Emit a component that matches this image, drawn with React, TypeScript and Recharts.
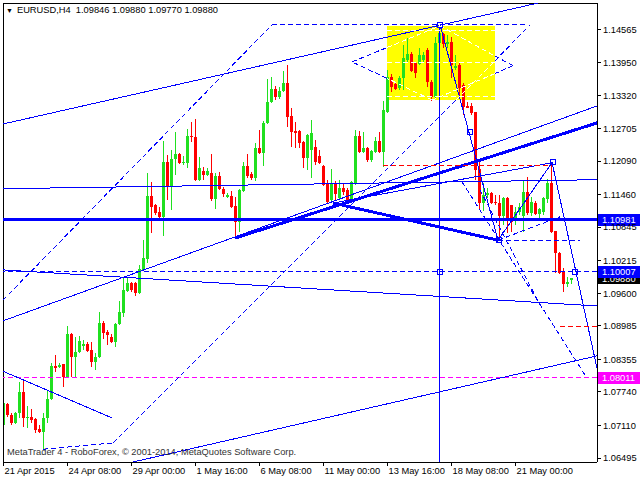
import React from 'react';
import { ComposedChart, Bar, XAxis, YAxis, ReferenceLine, ReferenceArea, ReferenceDot } from 'recharts';

// ---------- data (EURUSD H4) ----------
const opens = [
  1.0711, 1.0751, 1.0730, 1.0715, 1.0734, 1.0774, 1.0724, 1.0727, 1.0723, 1.0704,
  1.0698, 1.0725, 1.0760, 1.0823, 1.0821, 1.0827, 1.0802, 1.0883, 1.0840, 1.0849,
  1.0861, 1.0865, 1.0853, 1.0830, 1.0840, 1.0904, 1.0887, 1.0877, 1.0868, 1.0902,
  1.0923, 1.0964, 1.0979, 1.0979, 1.0960, 1.1004, 1.1025, 1.1143, 1.1126, 1.1113,
  1.1104, 1.1207, 1.1160, 1.1213, 1.1223, 1.1206, 1.1206, 1.1256, 1.1254, 1.1174,
  1.1190, 1.1183, 1.1187, 1.1138, 1.1181, 1.1157, 1.1141, 1.1143, 1.1125, 1.1094,
  1.1153, 1.1200, 1.1185, 1.1177, 1.1234, 1.1224, 1.1281, 1.1321, 1.1345, 1.1330,
  1.1341, 1.1356, 1.1294, 1.1266, 1.1266, 1.1245, 1.1215, 1.1230, 1.1236, 1.1219,
  1.1200, 1.1168, 1.1136, 1.1168, 1.1140, 1.1158, 1.1155, 1.1136, 1.1168, 1.1256,
  1.1226, 1.1234, 1.1211, 1.1226, 1.1247, 1.1226, 1.1302, 1.1368, 1.1355, 1.1347,
  1.1366, 1.1400, 1.1411, 1.1394, 1.1392, 1.1400, 1.1419, 1.1358, 1.1330, 1.1432,
  1.1449, 1.1430, 1.1434, 1.1385, 1.1390, 1.1353, 1.1313, 1.1313, 1.1302, 1.1194,
  1.1130, 1.1145, 1.1149, 1.1132, 1.1130, 1.1106, 1.1140, 1.1126, 1.1098, 1.1113,
  1.1106, 1.1151, 1.1111, 1.1130, 1.1109, 1.1113, 1.1138, 1.1168, 1.1077, 1.1036,
  1.1002, 1.0977, 1.09846,
];
const highs = [
  1.0781, 1.0753, 1.0734, 1.0736, 1.0793, 1.0798, 1.0747, 1.0742, 1.0725, 1.0711,
  1.0734, 1.0777, 1.0828, 1.0843, 1.0828, 1.0827, 1.0898, 1.0885, 1.0877, 1.0879,
  1.0872, 1.0868, 1.0868, 1.0847, 1.0925, 1.0908, 1.0891, 1.0883, 1.0904, 1.0945,
  1.0991, 1.0989, 1.0981, 1.0981, 1.1013, 1.1060, 1.1187, 1.1170, 1.1128, 1.1123,
  1.1247, 1.1221, 1.1230, 1.1264, 1.1224, 1.1219, 1.1270, 1.1283, 1.1289, 1.1217,
  1.1198, 1.1196, 1.1223, 1.1187, 1.1189, 1.1160, 1.1149, 1.1153, 1.1141, 1.1157,
  1.1207, 1.1223, 1.1189, 1.1243, 1.1268, 1.1285, 1.1364, 1.1368, 1.1351, 1.1349,
  1.1379, 1.1390, 1.1309, 1.1283, 1.1268, 1.1247, 1.1260, 1.1287, 1.1249, 1.1230,
  1.1202, 1.1174, 1.1194, 1.1172, 1.1174, 1.1168, 1.1158, 1.1172, 1.1268, 1.1266,
  1.1264, 1.1236, 1.1230, 1.1255, 1.1264, 1.1323, 1.1381, 1.1373, 1.1357, 1.1370,
  1.1428, 1.1441, 1.1415, 1.1396, 1.1422, 1.1415, 1.1422, 1.1362, 1.1443, 1.1466,
  1.1451, 1.1447, 1.1443, 1.1409, 1.1396, 1.1357, 1.1321, 1.1319, 1.1302, 1.1211,
  1.1168, 1.1158, 1.1151, 1.1145, 1.1145, 1.1141, 1.1141, 1.1126, 1.1123, 1.1130,
  1.1174, 1.1179, 1.1141, 1.1134, 1.1121, 1.1141, 1.1175, 1.1207, 1.1077, 1.1038,
  1.1008, 1.0991, 1.0988,
];
const lows = [
  1.0679, 1.0727, 1.0711, 1.0713, 1.0725, 1.0708, 1.0706, 1.0715, 1.0696, 1.0696,
  1.0666, 1.0715, 1.0758, 1.0811, 1.0819, 1.0783, 1.0800, 1.0802, 1.0802, 1.0847,
  1.0853, 1.0849, 1.0821, 1.0815, 1.0838, 1.0874, 1.0862, 1.0866, 1.0859, 1.0900,
  1.0915, 1.0962, 1.0962, 1.0955, 1.0958, 1.1002, 1.1017, 1.1074, 1.1108, 1.1098,
  1.1068, 1.1136, 1.1117, 1.1183, 1.1204, 1.1202, 1.1196, 1.1245, 1.1172, 1.1172,
  1.1174, 1.1181, 1.1134, 1.1119, 1.1155, 1.1141, 1.1140, 1.1121, 1.1064, 1.1075,
  1.1151, 1.1177, 1.1174, 1.1172, 1.1223, 1.1200, 1.1279, 1.1319, 1.1324, 1.1326,
  1.1340, 1.1273, 1.1236, 1.1234, 1.1234, 1.1196, 1.1192, 1.1177, 1.1202, 1.1204,
  1.1162, 1.1130, 1.1132, 1.1136, 1.1136, 1.1145, 1.1134, 1.1134, 1.1164, 1.1224,
  1.1224, 1.1207, 1.1207, 1.1224, 1.1224, 1.1198, 1.1300, 1.1340, 1.1343, 1.1343,
  1.1343, 1.1396, 1.1377, 1.1366, 1.1390, 1.1396, 1.1349, 1.1323, 1.1326, 1.1428,
  1.1422, 1.1422, 1.1366, 1.1381, 1.1330, 1.1296, 1.1309, 1.1296, 1.1173, 1.1117,
  1.1115, 1.1140, 1.1128, 1.1126, 1.1060, 1.1089, 1.1074, 1.1075, 1.1089, 1.1108,
  1.1075, 1.1108, 1.1106, 1.1108, 1.1098, 1.1108, 1.1130, 1.1074, 1.0998, 1.0996,
  1.0962, 1.0972, 1.0977,
];
const closes = [
  1.0753, 1.0730, 1.0715, 1.0734, 1.0774, 1.0725, 1.0726, 1.0721, 1.0702, 1.0698,
  1.0725, 1.0760, 1.0823, 1.0819, 1.0825, 1.0802, 1.0883, 1.0840, 1.0849, 1.0870,
  1.0865, 1.0851, 1.0830, 1.0840, 1.0904, 1.0885, 1.0881, 1.0868, 1.0902, 1.0925,
  1.0966, 1.0979, 1.0966, 1.0960, 1.1006, 1.1026, 1.1143, 1.1123, 1.1111, 1.1104,
  1.1207, 1.1160, 1.1213, 1.1223, 1.1206, 1.1208, 1.1256, 1.1254, 1.1174, 1.1196,
  1.1183, 1.1190, 1.1138, 1.1181, 1.1157, 1.1147, 1.1145, 1.1123, 1.1094, 1.1155,
  1.1200, 1.1181, 1.1177, 1.1234, 1.1224, 1.1281, 1.1321, 1.1345, 1.1330, 1.1341,
  1.1356, 1.1292, 1.1264, 1.1262, 1.1243, 1.1215, 1.1258, 1.1262, 1.1207, 1.1206,
  1.1164, 1.1132, 1.1168, 1.1147, 1.1158, 1.1151, 1.1136, 1.1170, 1.1256, 1.1226,
  1.1234, 1.1211, 1.1228, 1.1247, 1.1226, 1.1306, 1.1368, 1.1349, 1.1345, 1.1366,
  1.1404, 1.1411, 1.1379, 1.1375, 1.1409, 1.1409, 1.1358, 1.1330, 1.1432, 1.1451,
  1.1430, 1.1434, 1.1390, 1.1389, 1.1347, 1.1311, 1.1309, 1.1300, 1.1192, 1.1130,
  1.1145, 1.1149, 1.1130, 1.1130, 1.1106, 1.1140, 1.1098, 1.1094, 1.1113, 1.1123,
  1.1151, 1.1111, 1.1132, 1.1109, 1.1119, 1.1140, 1.1168, 1.1075, 1.1036, 1.0998,
  1.0977, 1.0981, 1.0988,
];

const timeTickIndex = [0, 16, 32, 48, 64, 80, 96, 112, 128];
const timeTickLabels = ['21 Apr 2015', '24 Apr 08:00', '29 Apr 00:00', '1 May 16:00', '6 May 08:00', '11 May 00:00', '13 May 16:00', '18 May 08:00', '21 May 00:00'];
const priceTicks = [1.14565, 1.1395, 1.1332, 1.12705, 1.1209, 1.1146, 1.10845, 1.10215, 1.096, 1.08985, 1.08355, 1.0774, 1.0711, 1.06495];

// analysis objects, endpoints as [barIndex, price, barIndex, price]
const solidLines = [
  [-0.125, 1.1279, 134.875, 1.1509],
  [-0.125, 1.1157, 148.375, 1.1174],
  [-0.125, 1.1004, 148.375, 1.0936],
  [-0.125, 1.0908, 148.375, 1.1313],
  [82.375, 1.1130, 137.125, 1.1206],
  [109.125, 1.1466, 123.625, 1.1060],
  [123.625, 1.1060, 137.125, 1.1206],
  [137.125, 1.1207, 148.375, 1.0819],
  [32.375, 1.0642, 148.375, 1.0842],
  [-0.125, 1.0813, 27.125, 1.0725],
  [109, 1.1466, 109, 1.0642],
];
const thickLines = [
  [57.875, 1.1064, 148.375, 1.1281],
  [82.375, 1.1130, 123.625, 1.1060],
];
const dashedBlueLines = [
  [-0.125, 1.0947, 67.125, 1.1466],
  [67.125, 1.1466, 131.125, 1.1466],
  [9.875, 1.0666, 27.375, 1.0678],
  [27.375, 1.0678, 113.125, 1.1324],
  [122.875, 1.1398, 131.625, 1.1466],
  [123.625, 1.1060, 144.125, 1.1060],
  [114.625, 1.1170, 145.875, 1.0800],
  [119.125, 1.1155, 134.125, 1.0938],
  [123.625, 1.1060, 139.125, 1.1104],
  [87.125, 1.1396, 95.875, 1.1423],
  [122.875, 1.1407, 127.375, 1.1389],
  [127.375, 1.1389, 122.875, 1.1374],
  [95.875, 1.1365, 87.125, 1.1396],
];
const dashedWhiteLines = [
  [113.125, 1.1324, 122.875, 1.1398],
  [95.875, 1.1423, 109.125, 1.1464],
  [109.125, 1.1464, 122.875, 1.1407],
  [122.875, 1.1374, 107.125, 1.1324],
  [107.125, 1.1324, 95.875, 1.1365],
  [95.875, 1.1456, 122.875, 1.1456],
  [95.875, 1.1394, 122.875, 1.1394],
  [95.875, 1.1330, 122.875, 1.1330],
];
const dashedRedLines = [
  [94.875, 1.1200, 137.125, 1.1200],
  [139.125, 1.0898, 148.375, 1.0898],
];
const yellowBox = [95.875, 1.1324, 122.875, 1.1464];
const squarePoints = [
  [109, 1.1465], [116.5, 1.1264], [123.8, 1.1060], [137.45, 1.1207], [109.125, 1.10007], [142.9, 1.10007],
];
const supportLevel = 1.10981;
const dashedLevel = 1.10007;
const magentaLevel = 1.08011;
const priceTags = [
  { value: 1.0988, text: '1.09880', bg: '#000000' },
  { value: 1.10007, text: '1.10007', bg: '#0000FF' },
  { value: 1.10981, text: '1.10981', bg: '#0000FF' },
  { value: 1.08011, text: '1.08011', bg: '#FF00FF' },
];

const X_DOMAIN: [number, number] = [-0.125, 148.375];
const Y_DOMAIN: [number, number] = [1.0642, 1.1507];

const candles = opens.map((o, i) => ({ i, o, h: highs[i], l: lows[i], c: closes[i], range: [lows[i], highs[i]] }));

const BULL = '#20E020';
const BEAR = '#FF0000';
const BLUE = '#0000FF';
const FONT = '"Liberation Sans", Arial, sans-serif';
const FS = 9.3;
const DASH = '5 3';

const Candle = (props: any) => {
  const { x, y, width, height, payload } = props;
  if (x == null || !payload) return null;
  const top = Math.min(y, y + height);
  const span = Math.abs(height);
  const { o, h, l, c } = payload;
  const pix = (v: number) => (h === l ? top : top + ((h - v) / (h - l)) * span);
  const cx = Math.round(x + width / 2 - 0.5) + 0.5;
  const col = c >= o ? BULL : BEAR;
  const yo = pix(o);
  const yc = pix(c);
  const bt = Math.min(yo, yc);
  const bh = Math.max(1, Math.abs(yo - yc));
  return (
    <g>
      <line x1={cx} x2={cx} y1={top} y2={top + Math.max(span, 1)} stroke={col} strokeWidth={1} />
      <rect x={cx - 1.5} y={bt} width={3} height={bh} fill={col} />
    </g>
  );
};

const XTick = (props: any) => {
  const { x, y, payload } = props;
  const idx = timeTickIndex.indexOf(payload.value);
  return (
    <g>
      <line x1={x} x2={x} y1={y} y2={y + 4} stroke="#000" />
      <text x={x + 1} y={y + 12} fontFamily={FONT} fontSize={FS} fill="#000" textAnchor="start">
        {idx >= 0 ? timeTickLabels[idx] : ''}
      </text>
    </g>
  );
};

const YTick = (props: any) => {
  const { x, y, payload } = props;
  return (
    <g>
      <line x1={x} x2={x + 4} y1={y} y2={y} stroke="#000" />
      <text x={x + 6} y={y} dy="0.35em" fontFamily={FONT} fontSize={FS} fill="#000" textAnchor="start">
        {Number(payload.value).toFixed(5)}
      </text>
    </g>
  );
};

const makeTag = (bg: string, text: string) => (props: any) => {
  const { cx, cy } = props;
  return (
    <g>
      <rect x={cx + 1} y={cy - 6} width={42} height={12} fill={bg} />
      <text x={cx + 5} y={cy} dy="0.35em" fontFamily={FONT} fontSize={FS} fill="#fff">
        {text}
      </text>
    </g>
  );
};

const Square = (props: any) => {
  const { cx, cy } = props;
  return <rect x={Math.round(cx) - 2.5} y={Math.round(cy) - 2.5} width={5} height={5} fill="none" stroke={BLUE} strokeWidth={1} />;
};

const seg = (s: number[]) => [
  { x: s[0], y: s[1] },
  { x: s[2], y: s[3] },
];

export default function App() {
  return (
    <div style={{ position: 'absolute', left: 0, top: 0, width: 640, height: 480, background: '#fff' }} className="mt4">
      <style>{`.mt4 svg line, .mt4 svg path, .mt4 svg rect { shape-rendering: crispEdges; }`}</style>
      <ComposedChart width={640} height={480} data={candles} margin={{ top: 3, right: 0, bottom: 0, left: 3 }}>
        <XAxis
          dataKey="i"
          type="number"
          domain={X_DOMAIN}
          allowDataOverflow
          ticks={timeTickIndex}
          interval={0}
          height={18}
          tickSize={0}
          tickMargin={0}
          axisLine={{ stroke: '#000' }}
          tickLine={false}
          tick={<XTick />}
        />
        <YAxis
          type="number"
          orientation="right"
          domain={Y_DOMAIN}
          allowDataOverflow
          ticks={priceTicks}
          interval={0}
          width={43}
          tickSize={0}
          tickMargin={0}
          axisLine={{ stroke: '#000' }}
          tickLine={false}
          tick={<YTick />}
        />
        <ReferenceArea
          x1={yellowBox[0]}
          x2={yellowBox[2]}
          y1={yellowBox[1]}
          y2={yellowBox[3]}
          fill="#FFFF00"
          fillOpacity={1}
          stroke="none"
          ifOverflow="hidden"
        />
        <Bar dataKey="range" barSize={3} isAnimationActive={false} shape={<Candle />} />
        <ReferenceLine x={X_DOMAIN[0]} stroke="#000" />
        <ReferenceLine y={Y_DOMAIN[1]} stroke="#000" />
        <ReferenceLine y={supportLevel} stroke={BLUE} strokeWidth={3} />
        <ReferenceLine y={dashedLevel} stroke={BLUE} strokeDasharray={DASH} />
        <ReferenceLine y={magentaLevel} stroke="#FF00FF" strokeDasharray={DASH} />
        {solidLines.map((s, k) => (
          <ReferenceLine key={'s' + k} segment={seg(s)} stroke={BLUE} strokeWidth={1} ifOverflow="hidden" />
        ))}
        {thickLines.map((s, k) => (
          <ReferenceLine key={'t' + k} segment={seg(s)} stroke={BLUE} strokeWidth={3} ifOverflow="hidden" />
        ))}
        {dashedBlueLines.map((s, k) => (
          <ReferenceLine key={'d' + k} segment={seg(s)} stroke={BLUE} strokeDasharray={DASH} ifOverflow="hidden" />
        ))}
        {dashedWhiteLines.map((s, k) => (
          <ReferenceLine key={'w' + k} segment={seg(s)} stroke="#FFFFFF" strokeDasharray={DASH} ifOverflow="hidden" />
        ))}
        {dashedRedLines.map((s, k) => (
          <ReferenceLine key={'r' + k} segment={seg(s)} stroke={BEAR} strokeDasharray={DASH} ifOverflow="hidden" />
        ))}
        {squarePoints.map((p, k) => (
          <ReferenceDot key={'q' + k} x={p[0]} y={p[1]} r={3} shape={<Square />} ifOverflow="visible" />
        ))}
        {priceTags.map((t, k) => (
          <ReferenceDot key={'p' + k} x={X_DOMAIN[1]} y={t.value} r={1} shape={makeTag(t.bg, t.text)} ifOverflow="visible" />
        ))}
      </ComposedChart>
      <div
        style={{
          position: 'absolute',
          left: 6,
          top: 5,
          fontFamily: FONT,
          fontSize: FS,
          lineHeight: '11px',
          color: '#000',
          whiteSpace: 'pre',
        }}
      >
        <span style={{ fontSize: 7, marginRight: 4 }}>▼</span>
        {'EURUSD,H4  1.09846 1.09880 1.09770 1.09880'}
      </div>
      <div
        style={{
          position: 'absolute',
          left: 7,
          top: 447,
          fontFamily: FONT,
          fontSize: FS,
          lineHeight: '11px',
          color: '#333',
          whiteSpace: 'pre',
        }}
      >
        MetaTrader 4 - RoboForex, © 2001-2014, MetaQuotes Software Corp.
      </div>
    </div>
  );
}
